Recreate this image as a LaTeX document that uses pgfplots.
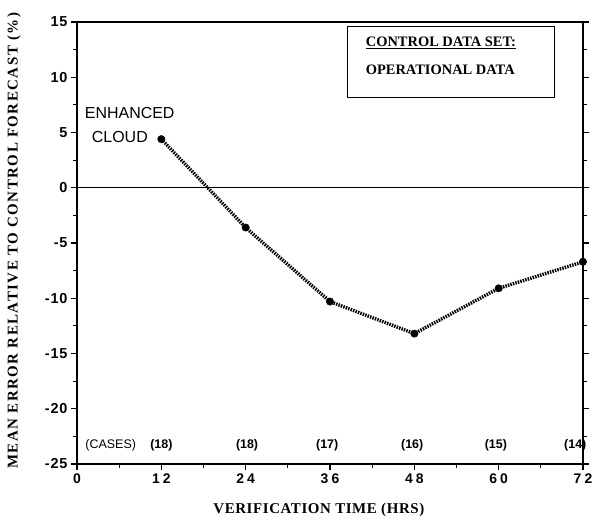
\documentclass[border=0pt]{standalone}
\usepackage{fontspec}
\setmainfont{Liberation Serif}
\setsansfont{Liberation Sans}
\usepackage{pgfplots}
\pgfplotsset{compat=1.18}
\begin{document}
\begin{tikzpicture}[x=1bp,y=1bp]
\path[use as bounding box] (-77,-59) rectangle (517,464);
\begin{axis}[
  scale only axis, width=506bp, height=442bp,
  xmin=0, xmax=72, ymin=-25, ymax=15,
  xtick={0,12,24,36,48,60,72},
  xticklabels={0,12,24,36,48,60,72},
  minor xtick={6,18,30,42,54,66},
  ytick={-25,-20,-15,-10,-5,0,5,10,15},
  minor ytick={-22.5,-17.5,-12.5,-7.5,-2.5,2.5,7.5,12.5},
  xtick pos=bottom, ytick pos=both,
  tick align=outside,
  major tick length=6bp, minor tick length=4bp,
  axis line style={line width=1.3pt},
  every tick/.style={black, line width=1.1pt},
  /pgf/number format/assume math mode=true,
  xticklabel style={font=\sffamily\bfseries\fontsize{14}{16}\selectfont\addfontfeature{LetterSpace=22}},
  yticklabel style={font=\sffamily\bfseries\fontsize{14.5}{16}\selectfont\addfontfeature{LetterSpace=6}},
  yticklabel pos=left,
  xlabel={VERIFICATION TIME (HRS)},
  ylabel={MEAN ERROR RELATIVE TO CONTROL FORECAST (\%)},
  xlabel style={font=\bfseries\fontsize{15}{17}\selectfont\addfontfeature{LetterSpace=4}, at={(axis description cs:0.478,-0.103)}, anchor=center},
  ylabel style={font=\bfseries\fontsize{15}{17}\selectfont\addfontfeature{LetterSpace=10}, at={(axis description cs:-0.1245,0.505)}, anchor=center},
  clip=false,
]
\addplot[black, line width=1.2pt] coordinates {(0,0) (72,0)};
\addplot[black, line width=3.4pt, dash pattern=on 1.5pt off 1.1pt,
  mark=*, mark size=3.7pt, mark options={solid, fill=black, line width=0.5pt}]
  coordinates {(12,4.4) (24,-3.6) (36,-10.3) (48,-13.2) (60,-9.1) (72,-6.7)};
\node[font=\sffamily\fontsize{16}{18}\selectfont] at (axis cs:7.5,6.8) {ENHANCED};
\node[font=\sffamily\fontsize{16}{18}\selectfont] at (axis cs:6.1,4.6) {CLOUD};
\node[font=\sffamily\fontsize{12.5}{14}\selectfont] at (axis cs:4.8,-23.3) {(CASES)};
\node[font=\sffamily\bfseries\fontsize{12.5}{14}\selectfont] at (axis cs:12.0,-23.3) {(18)};
\node[font=\sffamily\bfseries\fontsize{12.5}{14}\selectfont] at (axis cs:24.2,-23.3) {(18)};
\node[font=\sffamily\bfseries\fontsize{12.5}{14}\selectfont] at (axis cs:35.6,-23.3) {(17)};
\node[font=\sffamily\bfseries\fontsize{12.5}{14}\selectfont] at (axis cs:47.7,-23.3) {(16)};
\node[font=\sffamily\bfseries\fontsize{12.5}{14}\selectfont] at (axis cs:59.6,-23.3) {(15)};
\node[font=\sffamily\bfseries\fontsize{12.5}{14}\selectfont] at (axis cs:70.9,-23.3) {(14)};
\draw[black, line width=1.2pt] (axis cs:38.5,14.6) rectangle (axis cs:68.0,8.15);
\node[anchor=west, font=\bfseries\fontsize{14.5}{16}\selectfont] at (axis cs:40.6,13.15) {\underline{CONTROL DATA SET:}};
\node[anchor=west, font=\bfseries\fontsize{14.5}{16}\selectfont] at (axis cs:40.6,10.7) {OPERATIONAL DATA};
\end{axis}
\end{tikzpicture}
\end{document}
